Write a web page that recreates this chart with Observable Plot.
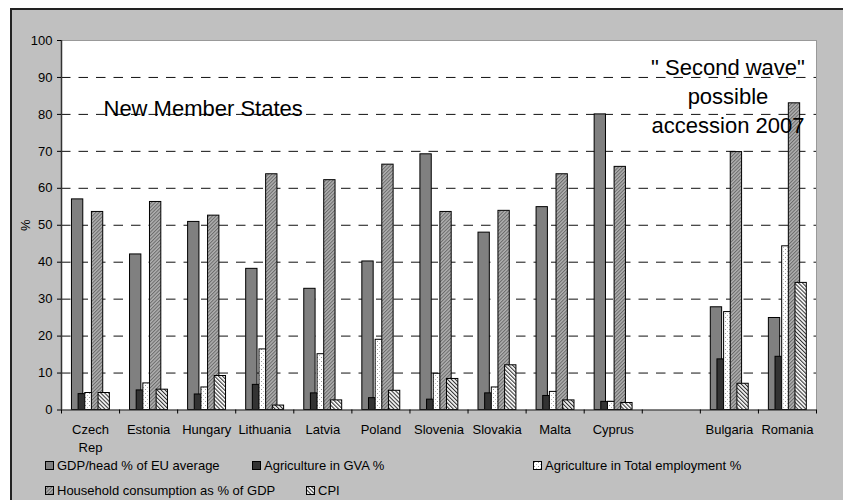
<!DOCTYPE html>
<html>
<head>
<meta charset="utf-8">
<script src="https://cdn.jsdelivr.net/npm/d3@7"></script>
<script src="https://cdn.jsdelivr.net/npm/@observablehq/plot@0.6"></script>
<style>
  body { margin: 0; background: #fff; font-family: "Liberation Sans", Arial, sans-serif; }
  #wrap { position: relative; width: 843px; height: 500px; overflow: hidden; background: #fff; }
  #frame { position: absolute; left: 10px; top: 8px; width: 900px; height: 600px; background: #c0c0c0; border: 2px solid #222; box-sizing: border-box; }
  #chart { position: absolute; left: 0; top: 0; }
  .lg { position: absolute; font-size: 13px; color: #000; white-space: nowrap; display: flex; align-items: center; }
  .lg svg { margin-right: 3px; }
</style>
</head>
<body>
<svg width="0" height="0" style="position:absolute">
  <defs>
    <pattern id="pEmp" width="4" height="4" patternUnits="userSpaceOnUse">
      <rect width="4" height="4" fill="#fff"/>
      <rect x="1" y="1" width="1" height="1" fill="#999"/>
      <rect x="3" y="3" width="1" height="1" fill="#bbb"/>
    </pattern>
    <pattern id="pHH" width="2.5" height="2.5" patternUnits="userSpaceOnUse" patternTransform="rotate(45)">
      <rect width="2.5" height="2.5" fill="#b0b0b0"/>
      <rect width="1" height="2.5" fill="#6a6a6a"/>
    </pattern>
    <pattern id="pCPI" width="2.8" height="2.8" patternUnits="userSpaceOnUse" patternTransform="rotate(-45)">
      <rect width="2.8" height="2.8" fill="#fff"/>
      <rect width="1.1" height="2.8" fill="#333"/>
    </pattern>
  </defs>
</svg>
<div id="wrap">
  <div id="frame"></div>
  <div id="chart"></div>
  <div id="legend"></div>
</div>
<script>
const categories = ["Czech\nRep", "Estonia", "Hungary", "Lithuania", "Latvia", "Poland", "Slovenia", "Slovakia", "Malta", "Cyprus", "", "Bulgaria", "Romania"];
const seriesNames = ["GDP/head % of EU average", "Agriculture in GVA %", "Agriculture in Total employment %", "Household consumption as % of GDP", "CPI"];
const gdpHead   = [57.0, 42.1, 50.9, 38.2, 32.8, 40.2, 69.2, 48.0, 54.9, 80.0, null, 27.8, 24.9];
const agriGVA   = [4.3, 5.3, 4.2, 6.8, 4.5, 3.2, 2.8, 4.5, 3.8, 2.2, null, 13.7, 14.4];
const agriEmp   = [4.6, 7.2, 6.1, 16.4, 15.1, 19.0, 9.8, 6.1, 4.9, 2.2, null, 26.5, 44.3];
const household = [53.6, 56.3, 52.6, 63.8, 62.2, 66.4, 53.6, 53.9, 63.8, 65.8, null, 69.8, 83.0];
const cpi       = [4.6, 5.5, 9.2, 1.2, 2.6, 5.2, 8.4, 12.1, 2.6, 1.9, null, 7.1, 34.4];
const yTicks = [0, 10, 20, 30, 40, 50, 60, 70, 80, 90, 100];
const noteLeft = [{text: "New Member States", x: 0.223, y: 83.9}];
const noteRight = [{text: "\" Second wave\"\npossible\naccession 2007", x: 10.976, y: 96.2}];

const seriesValues = [gdpHead, agriGVA, agriEmp, household, cpi];
const fills = ["#808080", "#333333", "url(#pEmp)", "url(#pHH)", "url(#pCPI)"];

const rows = [];
seriesValues.forEach((vals, k) => {
  vals.forEach((v, i) => { if (v != null) rows.push({i, k, series: seriesNames[k], value: v}); });
});

// bar layout (Excel-style overlapping clustered bars), in category units
const barW = 0.195, step = 0.1145, start = -0.32;

const chart = Plot.plot({
  width: 843,
  height: 500,
  marginLeft: 61,
  marginRight: 27,
  marginTop: 40,
  marginBottom: 90.5,
  style: {background: "transparent", fontFamily: "'Liberation Sans', Arial, sans-serif", fontSize: "13px", color: "#000"},
  x: {type: "linear", domain: [-0.5, 12.5], axis: null},
  y: {domain: [0, 100], axis: null},
  color: {type: "ordinal", domain: seriesNames, range: fills},
  marks: [
    Plot.frame({fill: "white", stroke: "#999"}),
    Plot.gridY(yTicks.filter(d => d > 0 && d < 100), {stroke: "#111", strokeOpacity: 1, strokeDasharray: "9.5,8"}),
    Plot.rectY(rows, {
      x1: d => d.i + start + d.k * step,
      x2: d => d.i + start + d.k * step + barW,
      y: "value",
      fill: "series",
      stroke: "#000",
      strokeWidth: 1
    }),
    Plot.ruleY([0], {stroke: "#333"}),
    Plot.ruleX([-0.5], {stroke: "#333", strokeWidth: 1.5}),
    Plot.axisY({ticks: yTicks, tickSize: 4, tickPadding: 5, fontSize: 13, label: "%", labelAnchor: "center", labelArrow: "none", labelOffset: 41}),
    Plot.axisX({ticks: d3.range(-0.5, 13, 1), tickSize: 4, tickFormat: () => "", label: null}),
    Plot.axisX({ticks: d3.range(0, 13), tickSize: 0, tickPadding: 12, fontSize: 13, lineHeight: 1.35, tickFormat: i => categories[i], label: null}),
    Plot.text(noteLeft, {x: "x", y: "y", text: "text", textAnchor: "start", lineAnchor: "top", fontSize: 22, fill: "#000"}),
    Plot.text(noteRight, {x: "x", y: "y", text: "text", textAnchor: "middle", lineAnchor: "top", fontSize: 22, lineHeight: 1.31, fill: "#000"})
  ]
});
document.getElementById("chart").appendChild(chart);

// legend
const legendPos = [
  {x: 45, y: 465}, {x: 252, y: 465}, {x: 533, y: 465},
  {x: 45, y: 490}, {x: 306, y: 490}
];
const legend = document.getElementById("legend");
seriesNames.forEach((name, k) => {
  const el = document.createElement("div");
  el.className = "lg";
  el.style.left = legendPos[k].x + "px";
  el.style.top = (legendPos[k].y - 8) + "px";
  el.style.height = "16px";
  el.innerHTML = `<svg width="9" height="9"><rect x="0.5" y="0.5" width="8" height="8" fill="${fills[k]}" stroke="#000"/></svg><span>${name}</span>`;
  legend.appendChild(el);
});
</script>
</body>
</html>
